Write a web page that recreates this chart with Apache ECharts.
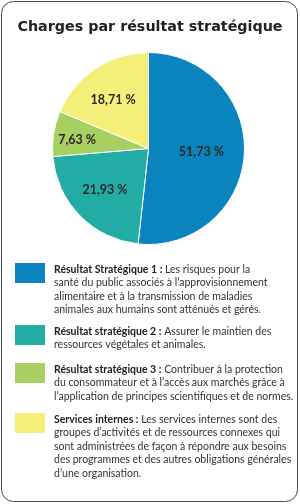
<!DOCTYPE html>
<html><head><meta charset="utf-8">
<script src="https://cdn.jsdelivr.net/npm/echarts@6/dist/echarts.min.js"></script>
<style>html,body{margin:0;padding:0;background:#fff}#c{width:300px;height:504px}</style>
</head><body><div id="c"></div>
<script>
const categories = ['Résultat Stratégique 1', 'Résultat stratégique 2', 'Résultat stratégique 3', 'Services internes'];
const values = [51.73, 21.93, 7.63, 18.71];
const descriptions = [
  ' Les risques pour la\nsanté du public associés à l’approvisionnement\nalimentaire et à la transmission de maladies\nanimales aux humains sont atténués et gérés.',
  ' Assurer le maintien des\nressources végétales et animales.',
  ' Contribuer à la protection\ndu consommateur et à l’accès aux marchés grâce à\nl’application de principes scientifiques et de normes.',
  ' Les services internes sont des\ngroupes d’activités et de ressources connexes qui\nsont administrées de façon à répondre aux besoins\ndes programmes et des autres obligations générales\nd’une organisation.'
];
const colors = ['#0a84be', '#21aca6', '#a7cf62', '#f4ef78'];
const labelOffsets = [[2, 1], [-7, 6], [-21, -1], [-7, -6]];
const legendTops = [263, 325, 363, 413];

const FONT = 'Lato, "Liberation Sans", sans-serif';
const chart = echarts.init(document.getElementById('c'), null, {renderer: 'canvas'});

const graphics = [{
  type: 'rect', shape: {x: 1.5, y: 1.5, width: 296, height: 500, r: 12},
  style: {fill: 'none', stroke: '#4a4a4a', lineWidth: 1}, z: -1
}];
categories.forEach((c, i) => {
  graphics.push({type: 'rect', shape: {x: 15, y: legendTops[i], width: 30, height: 20}, style: {fill: colors[i]}});
  graphics.push({type: 'text', x: 54, y: legendTops[i], style: {
    text: '{b|' + c + ' :}' + descriptions[i],
    fill: '#333', font: '10.5px ' + FONT, lineHeight: 13.4,
    rich: {b: {fontWeight: 'bold', fill: '#222', fontSize: 10.5, fontFamily: FONT, lineHeight: 13.4}}
  }});
});

chart.setOption({
  animation: false,
  title: {text: 'Charges par résultat stratégique', left: 'center', top: 15,
    textStyle: {fontFamily: '"DejaVu Sans", sans-serif', fontWeight: 'bold', fontSize: 14.3, color: '#222'}},
  color: colors,
  graphic: graphics,
  series: [{
    type: 'pie', center: [148.5, 148.5], radius: [0, 96], startAngle: 90, clockwise: true,
    itemStyle: {borderColor: '#fff', borderWidth: 1},
    label: {position: 'inside', color: '#2a2a2a', fontFamily: FONT, fontWeight: 'bold', fontSize: 12.5,
      formatter: p => p.value.toFixed(2).replace('.', ',') + ' %'},
    labelLine: {show: false},
    emphasis: {disabled: true},
    data: categories.map((c, i) => ({name: c, value: values[i], label: {offset: labelOffsets[i]}}))
  }]
});
</script></body></html>
